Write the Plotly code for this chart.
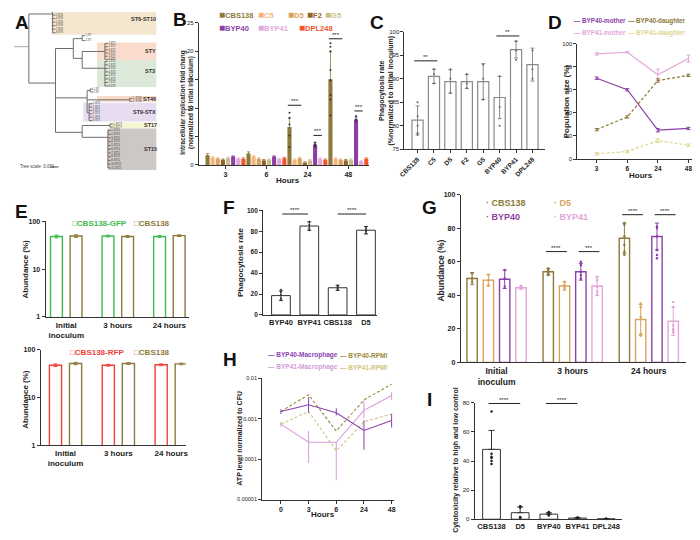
import numpy as np
import plotly.graph_objects as go

FONT = "Liberation Sans"
OFF = 8                      # page body margin of the viewing window
W, H = 700 - OFF, 540 - OFF  # figure size that fits the window

# ======================= DATA =======================
# ---- Panel A: phylogenetic tree (branch segments in tree units)
tree_h_x0 = [5, 23, 23, 50, 68, 68, 77, 77, 50, 82, 82, 82, 50, 77, 77]
tree_h_x1 = [23, 47, 50, 68, 77, 77, 100, 100, 82, 85, 125, 84, 77, 105, 103]
tree_h_y = [43, 10, 80, 45, 35, 55, 48, 65, 95, 87.5, 97, 110, 130, 123, 135]
tree_v_x = [23, 50, 68, 77, 82, 77]
tree_v_y0 = [10, 45, 35, 48, 87.5, 123]
tree_v_y1 = [80, 130, 55, 65, 110, 135]
leaf_tip = [47, 77, 100, 100, 85, 125, 84, 105, 103]
leaf_y0 = [4, 32, 40, 58, 86, 95.5, 101, 121.5, 128]
leaf_y1 = [29, 37, 56, 83, 89, 98.5, 118, 124.5, 166]
leaf_n = [8, 2, 6, 8, 2, 2, 6, 2, 11]
leaf_tag = ["ST6", "ST", "STY", "ST3", "ST", "ST46", "STX", "ST17", "ST15"]
clade_names = ["ST6-ST10", "STY", "ST3", "ST46", "ST9-STX", "ST17", "ST15"]
clade_x0 = [46, 92, 92, 92, 78, 105, 103]
clade_y0 = [4, 39, 57, 93, 100, 120, 126]
clade_y1 = [31, 57, 84, 99, 119, 126, 168]
clade_lx = [139, 146, 146, 145, 140, 146, 146]
clade_ly = [15, 48, 68, 96.5, 109, 123, 147]
clade_fill = ["#f5e6cf", "#fadccc", "#dce9d8", "#f7d9c8", "#e8ddf0", "#f6f5d6", "#cdc7c5"]

# ---- Panel B: intracellular replication fold change
b_hours = ["3", "6", "24", "48"]
b_strains = ["CBS138", "C5", "D5", "F2", "G5", "BYP40", "BYP41", "DPL248"]
b_cbs138 = [1.7, 2.0, 6.7, 15.1]
b_c5 = [1.3, 1.5, 0.9, 1.1]
b_d5 = [1.1, 1.1, 1.2, 0.9]
b_f2 = [0.9, 0.8, 0.4, 0.8]
b_g5 = [1.2, 0.9, 0.8, 0.9]
b_byp40 = [1.5, 1.5, 3.6, 8.0]
b_byp41 = [1.1, 1.0, 1.1, 0.6]
b_dpl248 = [1.1, 1.2, 0.9, 1.1]
b_err_cbs138 = [0.3, 0.3, 1.5, 4.8]
b_err_small = [0.15, 0.15, 0.15, 0.15]
b_err_byp40 = [0.1, 0.1, 0.4, 0.4]
b_dots_cbs138_24 = [9.2, 8.3, 7.1, 5.2, 3.1]
b_dots_cbs138_48 = [21.4, 20.8, 20.0, 16.7, 14.9, 12.3, 11.5, 8.7]
b_dots_byp40_24 = [3.9, 3.6, 3.4, 3.2]
b_dots_byp40_48 = [8.6, 8.0, 7.7]

# ---- Panel C: phagocytosis rate
c_strains = ["CBS138", "C5", "D5", "F2", "G5", "BYP40", "BYP41", "DPL248"]
c_vals = [81.2, 90.5, 89.4, 89.4, 89.4, 86.0, 96.2, 93.0]
c_err = [3.0, 1.5, 2.5, 1.5, 3.8, 4.5, 1.8, 3.5]
c_dots = [[85, 80, 78.5, 78, 82], [92, 91, 89], [92, 90, 87], [91, 89, 88],
          [93, 90, 85.5], [90.5, 84, 80], [98, 96, 94], [96, 92, 90]]

# ---- Panel D: population size
d_hours = ["3", "6", "24", "48"]
d_byp40_mother = [70, 60, 25, 26.5]
d_byp40_daughter = [25.5, 36.5, 68, 72.5]
d_byp41_mother = [91, 92.5, 73, 87]
d_byp41_daughter = [4.5, 6.5, 16, 12]
d_err_byp41_mother = [1, 0.5, 5, 3]
d_err_small = [1, 1, 1.5, 1]

# ---- Panel E: abundance (log)
e_groups = ["Initial<br>inoculum", "3 hours", "24 hours"]
e_gfp = [48, 49, 48]
e_cbs_top = [49, 48, 50]
e_rfp = [47, 47, 48]
e_cbs_bot = [51, 51, 50]
e_err = [3, 2, 2]

# ---- Panel F: phagocytosis rate
f_strains = ["BYP40", "BYP41", "CBS138", "D5"]
f_vals = [18.5, 85, 26, 81]
f_err = [4.5, 4, 2.5, 3.5]
f_dots = [[24, 22, 19, 16, 14], [89, 86, 83, 81], [28, 27, 25, 24], [84, 82, 80, 78]]

# ---- Panel G: abundance
g_groups = ["Initial<br>inoculum", "3 hours", "24 hours"]
g_strains = ["CBS138", "D5", "BYP40", "BYP41"]
g_cbs138 = [50, 54, 74]
g_d5 = [49, 45.5, 25.5]
g_byp40 = [49.5, 54, 75]
g_byp41 = [44.5, 45.5, 24.5]
g_err_cbs138 = [3.5, 2, 9]
g_err_d5 = [3.5, 2.5, 9]
g_err_byp40 = [5.5, 5, 8]
g_err_byp41 = [1, 5.5, 8.5]
g_dots_cbs138 = [[53, 50, 48], [56, 55, 54, 53, 52], [83, 82, 75, 70, 66, 64]]
g_dots_d5 = [[52, 49, 46], [48, 46, 45, 44], [35, 33, 27, 17, 16, 16]]
g_dots_byp40 = [[55, 50, 45], [60, 58, 54, 52, 50], [81, 80, 75, 67, 64, 62]]
g_dots_byp41 = [[45.5, 44.5, 44], [51, 49, 45, 42, 40], [36, 33, 22, 20, 19, 18]]

# ---- Panel H: ATP level
h_hours = ["0", "3", "6", "24", "48"]
h_byp40_mac = [0.0015, 0.0022, 0.0014, 0.00051, 0.0009]
h_byp41_mac = [0.00073, 0.00026, 0.00026, 0.0016, 0.0037]
h_byp40_rpmi = [0.0015, 0.0039, 0.00049, 0.0029, 0.0071]
h_byp41_rpmi = [0.00073, 0.0015, 0.00016, 0.00083, 0.0013]
h_err_byp40_up = [0.0002, 0.0012, 0.0004, 0.0004, 0.0004]
h_err_byp40_dn = [0.0002, 0.0008, 0.0002, 0.00034, 0.0003]
h_err_byp41_up = [0.0001, 0.00024, 0.0, 0.0012, 0.0008]
h_err_byp41_dn = [0.0001, 0.00018, 0.00023, 0.0006, 0.0008]

# ---- Panel I: cytotoxicity
i_strains = ["CBS138", "D5", "BYP40", "BYP41", "DPL248"]
i_vals = [48, 4.5, 3.5, 0.8, 0.3]
i_err = [13, 4, 1, 0.3, 0.2]
i_dots = [[74, 45, 43, 42, 40, 38], [9, 8.5, 8, 1.5, 1.2, 1], [5, 4.5, 4, 3, 2.5],
          [1.2, 1, 0.8, 0.6], [0.4, 0.3, 0.2]]

# ======================= STYLE =======================
CBS = "#8b7a3a"; C5C = "#f6b47c"; D5C = "#d9a35c"; F2C = "#93622b"; G5C = "#c9bd88"
P40 = "#8c3fa5"; P41 = "#e3a6da"; DPL = "#f2552c"
GFP = "#3dbb4c"; RFP = "#f0403c"; KHAKI = "#ddd68f"; GREY = "#8a8a8a"; INK = "#222222"

fig = go.Figure()
layout = dict(width=W, height=H, margin=dict(l=0, r=0, t=0, b=0),
              paper_bgcolor="white", plot_bgcolor="rgba(0,0,0,0)",
              showlegend=False, barmode="overlay",
              font=dict(family=FONT, size=7, color=INK))
shapes = []
annots = []


def px_x(x):
    return (x - OFF) / W


def px_y(y):
    return 1 - (y - OFF) / H


def ids(n):
    s = "" if n == 1 else str(n)
    return "x" + s, "y" + s, "xaxis" + s, "yaxis" + s


def add_axes(n, xpx, ypx, xr, yr, xkw=None, ykw=None):
    xid, yid, xk, yk = ids(n)
    base = dict(showline=True, linecolor="#333", linewidth=1, ticks="outside",
                ticklen=3, tickwidth=1, tickcolor="#333", showgrid=False,
                zeroline=False,
                tickfont=dict(family=FONT, size=7, color=INK, weight="bold"))
    xa = dict(base, domain=[px_x(xpx[0]), px_x(xpx[1])], range=xr, anchor=yid)
    ya = dict(base, domain=[px_y(ypx[1]), px_y(ypx[0])], range=yr, anchor=xid)
    xa.update(xkw or {})
    ya.update(ykw or {})
    layout[xk] = xa
    layout[yk] = ya
    return xid, yid


def text(x, y, s, size=7, color=INK, angle=0, bold=True, xanchor="center", **kw):
    annots.append(dict(x=px_x(x), y=px_y(y), xref="paper", yref="paper",
                       text=("<b>%s</b>" % s) if bold else s, showarrow=False,
                       textangle=angle, xanchor=xanchor, yanchor="middle",
                       font=dict(family=FONT, size=size, color=color), **kw))


def sig(xid, yid, x0, x1, y, label):
    shapes.append(dict(type="line", xref=xid, yref=yid, x0=x0, x1=x1, y0=y, y1=y,
                       line=dict(color="#222", width=1)))
    annots.append(dict(x=(x0 + x1) / 2, y=y, xref=xid, yref=yid, text=label,
                       showarrow=False, yanchor="bottom", yshift=-1,
                       font=dict(family=FONT, size=6, color="#222")))


def dots(xid, yid, x, vals, color, size=2.5, symbol="circle"):
    fig.add_trace(go.Scatter(x=[x] * len(vals), y=vals, mode="markers",
                             marker=dict(color=color, size=size, symbol=symbol),
                             xaxis=xid, yaxis=yid, cliponaxis=False))


# ======================= PANEL A =======================
xa1, ya1 = add_axes(1, (OFF, 155), (OFF, 170), [OFF, 155], [170, OFF],
                    dict(visible=False), dict(visible=False))
for x0, y0, y1, c in zip(clade_x0, clade_y0, clade_y1, clade_fill):
    shapes.append(dict(type="rect", xref=xa1, yref=ya1, x0=x0, x1=152,
                       y0=max(y0, OFF), y1=y1,
                       fillcolor=c, line=dict(width=0), layer="below"))
lx, ly = [], []
for i, (x0, x1, y) in enumerate(zip(tree_h_x0, tree_h_x1, tree_h_y)):
    if i == 0:
        continue
    lx += [x0, x1, None]; ly += [y, y, None]
for x, y0, y1 in zip(tree_v_x, tree_v_y0, tree_v_y1):
    lx += [x, x, None]; ly += [y0, y1, None]
leaf_tx, leaf_ty, leaf_lab = [], [], []
for tip, y0, y1, n, tag in zip(leaf_tip, leaf_y0, leaf_y1, leaf_n, leaf_tag):
    lx += [tip, tip, None]; ly += [y0, y1, None]
    for k, yy in enumerate(np.linspace(y0, y1, n)):
        lx += [tip, tip + 3, None]; ly += [yy, yy, None]
        leaf_tx.append(tip + 3.5); leaf_ty.append(yy); leaf_lab.append("%d-%s" % (k + 1, tag))
fig.add_trace(go.Scatter(x=[tree_h_x0[0], tree_h_x1[0]], y=[tree_h_y[0]] * 2, mode="lines",
                         line=dict(color="#bbbbbb", width=1.2), xaxis=xa1, yaxis=ya1))
fig.add_trace(go.Scatter(x=lx, y=ly, mode="lines", line=dict(color="#6e6e6e", width=1),
                         xaxis=xa1, yaxis=ya1))
fig.add_trace(go.Scatter(x=leaf_tx, y=leaf_ty, mode="text", text=leaf_lab,
                         textposition="middle right",
                         textfont=dict(family=FONT, size=2.6, color="#333"),
                         xaxis=xa1, yaxis=ya1))
for name, x, y in zip(clade_names, clade_lx, clade_ly):
    annots.append(dict(x=x, y=y, xref=xa1, yref=ya1, text="<b>%s</b>" % name,
                       showarrow=False, font=dict(family=FONT, size=5.5, color="#333")))
text(12, 165, "Tree scale: 0.091", size=4.5, bold=False, xanchor="left", color="#444")
shapes.append(dict(type="line", xref=xa1, yref=ya1, x0=45, x1=53, y0=165, y1=165,
                   line=dict(color="#444", width=1)))

# ======================= PANEL B =======================
xb, yb = add_axes(2, (195, 367), (19, 163), [-0.65, 3.5], [0, 25],
                  dict(tickvals=list(range(4)), ticktext=b_hours),
                  dict(tickvals=[0, 5, 10, 15, 20, 25], tickfont=dict(size=6, family=FONT, color=INK)))
b_series = [b_cbs138, b_c5, b_d5, b_f2, b_g5, b_byp40, b_byp41, b_dpl248]
b_cols = [CBS, C5C, D5C, F2C, G5C, P40, P41, DPL]
b_errs = [b_err_cbs138] + [b_err_small] * 4 + [b_err_byp40] + [b_err_small] * 2
b_off = (np.arange(8) - 3.5) * 0.125
gx = np.arange(len(b_hours))
for k in range(8):
    fig.add_trace(go.Bar(x=gx + b_off[k], y=b_series[k], width=0.1,
                         marker=dict(color=b_cols[k], line=dict(width=0)),
                         error_y=dict(type="data", array=b_errs[k], color=b_cols[k],
                                      thickness=0.8, width=1.5),
                         xaxis=xb, yaxis=yb))
dots(xb, yb, 2 + b_off[0], b_dots_cbs138_24, "#333", 2)
dots(xb, yb, 3 + b_off[0], b_dots_cbs138_48, "#333", 2)
dots(xb, yb, 2 + b_off[5], b_dots_byp40_24, "#333", 2)
dots(xb, yb, 3 + b_off[5], b_dots_byp40_48, "#333", 2)
for g, a, b, y, lab in [(2, 0, 2, 10.5, "***"), (2, 5, 6, 5.2, "***"),
                        (3, 0, 2, 22.2, "***"), (3, 5, 6, 9.5, "***")]:
    sig(xb, yb, g + b_off[a] - 0.04, g + b_off[b] + 0.04, y, lab)
text(183, 100, "Intracellular replication fold chang<br>(normalized to intial inoculum)",
     size=6.4, angle=-90)
text(285, 179, "Hours", size=8)
b_leg_x = [213, 253, 283, 302, 321, 213, 253, 294]
b_leg_y = [11, 11, 11, 11, 11, 24, 24, 24]
for name, c, x, y in zip(b_strains, b_cols, b_leg_x, b_leg_y):
    text(x, y, "<span style='font-size:10px'>&#9632;</span>" + name, size=7.5, color=c,
         xanchor="left")

# ======================= PANEL C =======================
xc, yc = add_axes(3, (403, 545), (28, 147), [-0.8, 7.75], [75, 100],
                  dict(tickvals=list(range(8)), ticktext=c_strains, tickangle=-45,
                       tickfont=dict(size=6.5, family=FONT, color=INK, weight="bold")),
                  dict(dtick=5, tickfont=dict(size=6, family=FONT, color=INK)))
cx = np.arange(len(c_strains))
fig.add_trace(go.Bar(x=cx, y=c_vals, width=0.68,
                     marker=dict(color="white", line=dict(color=GREY, width=1.2)),
                     error_y=dict(type="data", array=c_err, color=GREY, thickness=1, width=2),
                     xaxis=xc, yaxis=yc))
for i, dv in enumerate(c_dots):
    dots(xc, yc, i, dv, "#666", 2)
sig(xc, yc, -0.2, 1.2, 93.8, "**")
sig(xc, yc, 4.8, 6.2, 99.1, "**")
text(385, 88, "Phagocytosis rate<br>(%normalized to initial inoculum)", size=7, angle=-90)

# ======================= PANEL D =======================
xd, yd = add_axes(4, (578, 695), (40, 157), [-0.63, 3.15], [0, 100],
                  dict(tickvals=list(range(4)), ticktext=d_hours,
                       tickfont=dict(size=6.5, family=FONT, color=INK, weight="bold")),
                  dict(dtick=20, tickfont=dict(size=6, family=FONT, color=INK)))
dx = np.arange(len(d_hours))
for vals, c, dash, err in [(d_byp41_mother, P41, "solid", d_err_byp41_mother),
                           (d_byp40_mother, P40, "solid", d_err_small),
                           (d_byp40_daughter, CBS, "3px,2px", d_err_small),
                           (d_byp41_daughter, KHAKI, "3px,2px", d_err_small)]:
    fig.add_trace(go.Scatter(x=dx, y=vals, mode="lines", line=dict(color=c, width=1.2, dash=dash),
                             error_y=dict(type="data", array=err, color=c, thickness=1, width=2),
                             xaxis=xd, yaxis=yd))
text(567, 99, "Population size (%)", size=8, angle=-90)
text(642, 174, "Hours", size=8)
for s, c, x, y in [("BYP40-mother", P40, 573, 17), ("BYP40-daughter", CBS, 627, 17),
                   ("BYP41-mother", P41, 573, 29), ("BYP41-daughter", KHAKI, 627, 29)]:
    text(x, y, "&#8212; " + s, size=6.3, color=c, xanchor="left")

# ======================= PANEL E =======================
logkw = dict(type="log", tickvals=[1, 10, 100], ticktext=["1", "10", "100"])
xkwE = dict(tickvals=[0, 1, 2], ticktext=e_groups, ticks="",
            tickfont=dict(size=8, family=FONT, color=INK, weight="bold"))
xe1, ye1 = add_axes(5, (40, 185), (220, 317), [-0.4, 2.38], [0, 2], xkwE, logkw)
xe2, ye2 = add_axes(6, (35, 182), (350, 447), [-0.47, 2.28], [0, 2], xkwE, logkw)
ex = np.arange(3)
for xid, yid, v1, c1, v2 in [(xe1, ye1, e_gfp, GFP, e_cbs_top), (xe2, ye2, e_rfp, RFP, e_cbs_bot)]:
    for v, c, off in [(v1, c1, -0.19), (v2, CBS, 0.19)]:
        fig.add_trace(go.Bar(x=ex + off, y=v, width=0.23,
                             marker=dict(color="white", line=dict(color=c, width=1.4)),
                             error_y=dict(type="data", array=e_err, color=c, thickness=1, width=2),
                             xaxis=xid, yaxis=yid))
text(20, 268, "Abundance (%)", size=8, angle=-90)
text(20, 400, "Abundance (%)", size=8, angle=-90)
text(65, 222, "&#9633;CBS138-GFP", size=8, color=GFP, xanchor="left")
text(127, 222, "&#9633;CBS138", size=8, color=CBS, xanchor="left")
text(63, 353, "&#9633;CBS138-RFP", size=8, color=RFP, xanchor="left")
text(127, 353, "&#9633;CBS138", size=8, color=CBS, xanchor="left")

# ======================= PANEL F =======================
xf, yf = add_axes(7, (260, 375), (209, 315), [-0.63, 3.38], [0, 100],
                  dict(tickvals=list(range(4)), ticktext=f_strains, ticks="",
                       tickfont=dict(size=7.5, family=FONT, color=INK, weight="bold")),
                  dict(dtick=20, tickfont=dict(size=6.5, family=FONT, color=INK, weight="bold")))
fx = np.arange(4)
fig.add_trace(go.Bar(x=fx, y=f_vals, width=0.66,
                     marker=dict(color="white", line=dict(color="#333", width=1)),
                     error_y=dict(type="data", array=f_err, color="#333", thickness=1, width=2),
                     xaxis=xf, yaxis=yf))
for i, dv in enumerate(f_dots):
    dots(xf, yf, i, dv, "#333", 2)
sig(xf, yf, 0.05, 0.95, 96.5, "****")
sig(xf, yf, 2.0, 3.0, 96.5, "****")
text(237, 262, "Phagocytosis rate", size=8, angle=-90)

# ======================= PANEL G =======================
xg, yg = add_axes(8, (460, 688), (193, 363), [-0.47, 2.49], [0, 100],
                  dict(tickvals=[0, 1, 2], ticktext=g_groups, ticks="",
                       tickfont=dict(size=8.5, family=FONT, color=INK, weight="bold")),
                  dict(dtick=20, tickfont=dict(size=7, family=FONT, color=INK, weight="bold")))
g_series = [g_cbs138, g_d5, g_byp40, g_byp41]
g_errs = [g_err_cbs138, g_err_d5, g_err_byp40, g_err_byp41]
g_dots = [g_dots_cbs138, g_dots_d5, g_dots_byp40, g_dots_byp41]
g_cols = [CBS, D5C, P40, P41]
g_off = (np.arange(4) - 1.5) * 0.214
gxx = np.arange(3)
for k in range(4):
    fig.add_trace(go.Bar(x=gxx + g_off[k], y=g_series[k], width=0.136,
                         marker=dict(color="white", line=dict(color=g_cols[k], width=1.4)),
                         error_y=dict(type="data", array=g_errs[k], color=g_cols[k],
                                      thickness=1, width=2),
                         xaxis=xg, yaxis=yg))
    for j in range(3):
        dots(xg, yg, j + g_off[k], g_dots[k][j], g_cols[k], 2.5)
sig(xg, yg, 1 + g_off[0] - 0.03, 1 + g_off[1] + 0.03, 66, "****")
sig(xg, yg, 1 + g_off[2] - 0.03, 1 + g_off[3] + 0.03, 66, "***")
sig(xg, yg, 2 + g_off[0] - 0.03, 2 + g_off[1] + 0.03, 88, "****")
sig(xg, yg, 2 + g_off[2] - 0.03, 2 + g_off[3] + 0.03, 88, "****")
text(440, 270, "Abundance (%)", size=8.5, angle=-90)
for s, c, x, y in [("CBS138", CBS, 484, 202), ("D5", D5C, 552, 202),
                   ("BYP40", P40, 484, 216), ("BYP41", P41, 552, 216)]:
    text(x, y, "&#183; " + s, size=9, color=c, xanchor="left")

# ======================= PANEL H =======================
xh, yh = add_axes(9, (259, 392), (379, 502), [-0.68, 4.07], [-5, -2],
                  dict(tickvals=list(range(5)), ticktext=h_hours),
                  dict(type="log", tickvals=[1e-5, 1e-4, 1e-3, 1e-2],
                       ticktext=["0.00001", "0.0001", "0.001", "0.01"],
                       tickfont=dict(size=5.5, family=FONT, color=INK)))
hx = np.arange(5)
for vals, c, dash, up, dn in [
        (h_byp41_mac, "#d59ad8", "solid", h_err_byp41_up, h_err_byp41_dn),
        (h_byp41_rpmi, "#cfc47e", "3px,2px", None, None),
        (h_byp40_rpmi, "#9c8a3c", "3px,2px", None, None),
        (h_byp40_mac, "#8c3fb0", "solid", h_err_byp40_up, h_err_byp40_dn)]:
    kw = {}
    if up is not None:
        kw["error_y"] = dict(type="data", array=up, arrayminus=dn, color=c,
                             thickness=1, width=0)
    fig.add_trace(go.Scatter(x=hx, y=vals, mode="lines",
                             line=dict(color=c, width=1.1, dash=dash),
                             xaxis=xh, yaxis=yh, **kw))
text(236, 440, "ATP level normalized to CFU", size=7, angle=-90)
text(321, 517, "Hours", size=8)
for s, c, x, y in [("BYP40-Macrophage", "#8c3fb0", 263, 356), ("BYP40-RPMI", "#9c8a3c", 336, 356),
                   ("BYP41-Macrophage", "#d59ad8", 263, 368), ("BYP41-RPMI", "#cfc47e", 336, 368)]:
    text(x, y, "&#8212; " + s, size=6.5, color=c, xanchor="left")

# ======================= PANEL I =======================
xi, yi = add_axes(10, (474, 623), (404, 522), [-0.59, 4.55], [0, 80],
                  dict(tickvals=list(range(5)), ticktext=i_strains, ticks="",
                       tickfont=dict(size=7.5, family=FONT, color=INK, weight="bold")),
                  dict(dtick=20, tickfont=dict(size=6, family=FONT, color=INK)))
ix = np.arange(5)
fig.add_trace(go.Bar(x=ix, y=i_vals, width=0.62,
                     marker=dict(color="white", line=dict(color="#333", width=1)),
                     error_y=dict(type="data", array=i_err, arrayminus=[0] * 5, color="#333",
                                  thickness=1, width=3),
                     xaxis=xi, yaxis=yi))
for i, dv in enumerate(i_dots):
    dots(xi, yi, i, dv, "#222", 2.5)
sig(xi, yi, -0.1, 1.0, 79.5, "****")
sig(xi, yi, 1.9, 3.0, 79.5, "****")
text(455, 462, "Cytotoxicity relative to high and low control", size=7, angle=-90)

# ======================= PANEL LETTERS =======================
for s, x, y in [("A", 16, 19), ("B", 176, 16), ("C", 375, 19), ("D", 555, 19), ("E", 16, 210),
                ("F", 226, 206), ("G", 428, 206), ("H", 227, 360), ("I", 428, 401)]:
    text(x, y, s, size=19, color="#111")

layout["shapes"] = shapes
layout["annotations"] = annots
fig.update_layout(**layout)
fig.write_html("out.html")
